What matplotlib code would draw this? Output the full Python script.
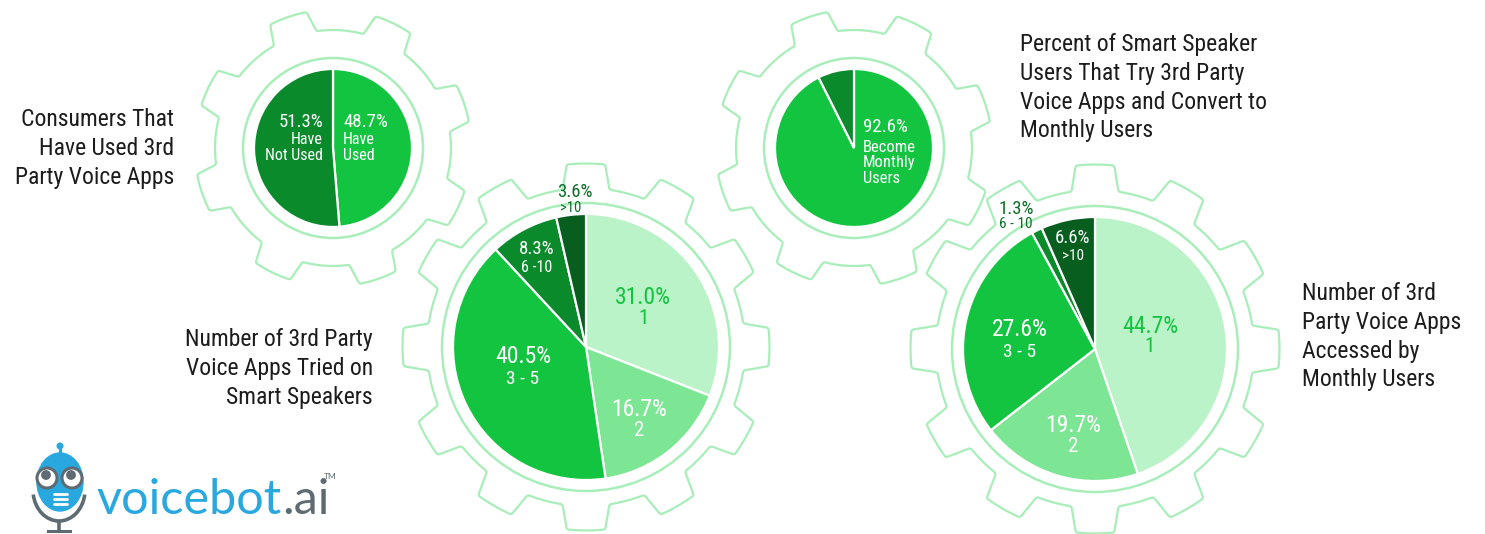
import numpy as np
import matplotlib
matplotlib.use('Agg')
import matplotlib.pyplot as plt
from matplotlib import font_manager as fm
from matplotlib.patches import Polygon, Circle, Ellipse, Arc

W, H = 1485, 534

# ---------------- data ----------------
used_labels = ['Have\nUsed', 'Have\nNot Used']
used_values = [48.7, 51.3]

convert_labels = ['Become\nMonthly\nUsers', 'Do Not Convert']
convert_values = [92.6, 7.4]

tried_labels = ['1', '2', '3 - 5', '6 -10', '>10']
tried_values = [31.0, 16.7, 40.5, 8.3, 3.6]

accessed_labels = ['1', '2', '3 - 5', '6 - 10', '>10']
accessed_values = [44.7, 19.7, 27.6, 1.3, 6.6]

title_used = 'Consumers That\nHave Used 3rd\nParty Voice Apps'
title_tried = 'Number of 3rd Party\nVoice Apps Tried on\nSmart Speakers'
title_convert = 'Percent of Smart Speaker\nUsers That Try 3rd Party\nVoice Apps and Convert to\nMonthly Users'
title_accessed = 'Number of 3rd\nParty Voice Apps\nAccessed by\nMonthly Users'

# ---------------- style ----------------
VLIGHT = '#BAF3C7'
LIGHT = '#7DE694'
BRIGHT = '#12C43F'
DARK = '#0B8A2C'
DARKEST = '#085E1E'
GEAR = '#A9EEBA'
TXT = '#1c1c1c'
DKTXT = '#0B6E27'
BLUE = '#29A8E0'
GRAY = '#5F6B73'

names = {f.name for f in fm.fontManager.ttflist}
COND = 'Roboto Condensed' in names
FAM = ['Roboto Condensed', 'Roboto', 'DejaVu Sans'] if COND else ['Roboto', 'DejaVu Sans']
S = 1.0 if COND else 0.9

fig = plt.figure(figsize=(W / 100, H / 100), dpi=100)
ax = fig.add_axes([0, 0, 1, 1])


def Y(y):
    return H - y


def polar(cx, cy, r, deg):
    a = np.radians(deg)
    return (cx + r * np.sin(a), Y(cy - r * np.cos(a)))


def densify(pts, maxlen=6.0):
    p = np.asarray(pts, float)
    out = []
    for i in range(len(p)):
        a, b = p[i], p[(i + 1) % len(p)]
        k = max(1, int(np.ceil(np.hypot(*(b - a)) / maxlen)))
        for j in range(k):
            out.append(a + (b - a) * j / k)
    return np.array(out)


def chaikin(p, it=3):
    for _ in range(it):
        q = np.roll(p, -1, axis=0)
        a = 0.75 * p + 0.25 * q
        b = 0.25 * p + 0.75 * q
        p = np.empty((2 * len(a), 2))
        p[0::2] = a
        p[1::2] = b
    return p


def gear(cx, cy, n, rv, rt, offset, tip_w, base_w):
    pts = []
    step = 360.0 / n
    for i in range(n):
        a = offset + i * step
        pts.append(polar(cx, cy, rv, a - base_w / 2))
        for t in np.linspace(a - tip_w / 2, a + tip_w / 2, 5):
            pts.append(polar(cx, cy, rt, t))
        pts.append(polar(cx, cy, rv, a + base_w / 2))
        for t in np.linspace(a + base_w / 2, a + step - base_w / 2, 8)[1:-1]:
            pts.append(polar(cx, cy, rv, t))
    ax.add_patch(Polygon(chaikin(densify(pts)), closed=True, fill=False, ec=GEAR,
                         lw=1.6, joinstyle='round', zorder=1))


def pie(values, colors, cx, cy, r):
    ax.pie(values, colors=colors, startangle=90, counterclock=False,
           center=(cx, Y(cy)), radius=r, frame=True,
           wedgeprops=dict(edgecolor='white', linewidth=1.6, zorder=3))
    ax.add_patch(Circle((cx, Y(cy)), r + 11, fill=False, ec=GEAR, lw=1.8, zorder=2))


def txt(x, y, s, size, color='white', ha='center', ls=1.1):
    ax.text(x, Y(y), s, fontsize=size * S, color=color, ha=ha, va='center_baseline',
            family=FAM, linespacing=ls, zorder=5)


# ---------------- gears ----------------
gear(333, 148, 8, 118, 138.5, 26, 16, 22)
gear(854, 148, 8, 118, 138.5, 26, 16, 22)
gear(586, 347, 12, 159, 183.5, 0, 12, 17)
gear(1095, 349, 12, 159, 184.5, 0, 12, 17)

# ---------------- pies ----------------
pie(used_values, [BRIGHT, DARK], 333, 148, 79)
pie(convert_values, [BRIGHT, DARK], 854, 148, 79)
pie(tried_values, [VLIGHT, LIGHT, BRIGHT, DARK, DARKEST], 586, 347, 133)
pie(accessed_values, [VLIGHT, LIGHT, BRIGHT, DARK, DARKEST], 1095, 349, 132)

# ---------------- pie labels ----------------
# pie 1
txt(343, 120, f'{used_values[0]:.1f}%', 13.5, ha='left')
txt(343, 146, used_labels[0], 11.5, ha='left', ls=1.05)
txt(323, 120, f'{used_values[1]:.1f}%', 13.5, ha='right')
txt(323, 146, used_labels[1], 11.5, ha='right', ls=1.05)

# pie 3
txt(863, 125, f'{convert_values[0]:.1f}%', 13.5, ha='left')
txt(863, 161, convert_labels[0], 12, ha='left', ls=1.05)

# pie 2
tried_pos = [(643, 295, 317), (639, 407, 428), (523, 354, 377), (537, 247, 266), (575, 190, 207)]
tried_big = [17, 17, 17, 13.5, 13.5]
tried_small = [15, 15, 14, 11.5, 10.5]
tried_col = [BRIGHT, 'white', 'white', 'white', DKTXT]
for v, lab, (x, y1, y2), b, sm, c in zip(tried_values, tried_labels, tried_pos,
                                          tried_big, tried_small, tried_col):
    txt(x, y1, f'{v:.1f}%', b, c)
    txt(x - (4 if lab == '>10' else 0), y2, lab, sm, c)

# pie 4
acc_pos = [(1150, 324, 345), (1073, 423, 444), (1020, 327, 350), (1016, 207, 223), (1073, 236, 254)]
acc_big = [17, 17, 17, 13.5, 13.5]
acc_small = [15, 15, 14, 11, 11]
acc_col = [BRIGHT, 'white', 'white', DKTXT, 'white']
for v, lab, (x, y1, y2), b, sm, c in zip(accessed_values, accessed_labels, acc_pos,
                                          acc_big, acc_small, acc_col):
    txt(x, y1, f'{v:.1f}%', b, c)
    txt(x, y2, lab, sm, c)

# ---------------- titles ----------------
def title(x, ytop, s, ha):
    ax.text(x, Y(ytop), s, fontsize=17 * S, color=TXT, ha=ha, va='top',
            family=FAM, linespacing=1.32, zorder=5)

title(174, 108, title_used, 'right')
title(373, 328, title_tried, 'right')
title(1020, 33, title_convert, 'left')
title(1302, 282, title_accessed, 'left')

# ---------------- logo ----------------
# mic holder
ax.add_patch(Arc((59, Y(490)), 52, 62, theta1=190, theta2=350, ec=GRAY, lw=2.6, zorder=2))
ax.plot([59, 59], [Y(521), Y(531)], color=GRAY, lw=2.6, solid_capstyle='butt')
ax.plot([48, 70], [Y(531), Y(531)], color=GRAY, lw=2.2)
# antenna
ax.plot([60, 60], [Y(446), Y(458)], color=BLUE, lw=2.2)
ax.add_patch(Circle((60, Y(446)), 2.8, color=BLUE, zorder=4))
# head
ax.add_patch(Ellipse((60, Y(482)), 46, 58, color=BLUE, zorder=3))
for ex in (47, 72):
    ax.add_patch(Circle((ex, Y(478)), 10, fc='white', ec=GRAY, lw=2.2, zorder=4))
    ax.add_patch(Circle((ex - 1, Y(475)), 4.2, color=GRAY, zorder=5))
for my in (494, 499, 504):
    ax.plot([54, 67], [Y(my), Y(my)], color='white', lw=2.0, zorder=5,
            solid_capstyle='round')
LOGO = ['Lato', 'DejaVu Sans']
t1 = ax.text(96, Y(514), 'voicebot', fontsize=35, color=BLUE, family=LOGO,
             ha='left', va='baseline')
ax.annotate('.ai', xy=(1, 0), xycoords=t1, xytext=(1, 0), textcoords='offset points',
            fontsize=35, color=GRAY, family=LOGO, ha='left', va='bottom')
ax.text(324, Y(479), 'TM', fontsize=6, color=GRAY, family=LOGO,
        ha='left', va='baseline')

ax.set_xlim(0, W)
ax.set_ylim(0, H)
ax.set_aspect('equal')
ax.axis('off')
fig.savefig('out.png', dpi=100, facecolor='white')
